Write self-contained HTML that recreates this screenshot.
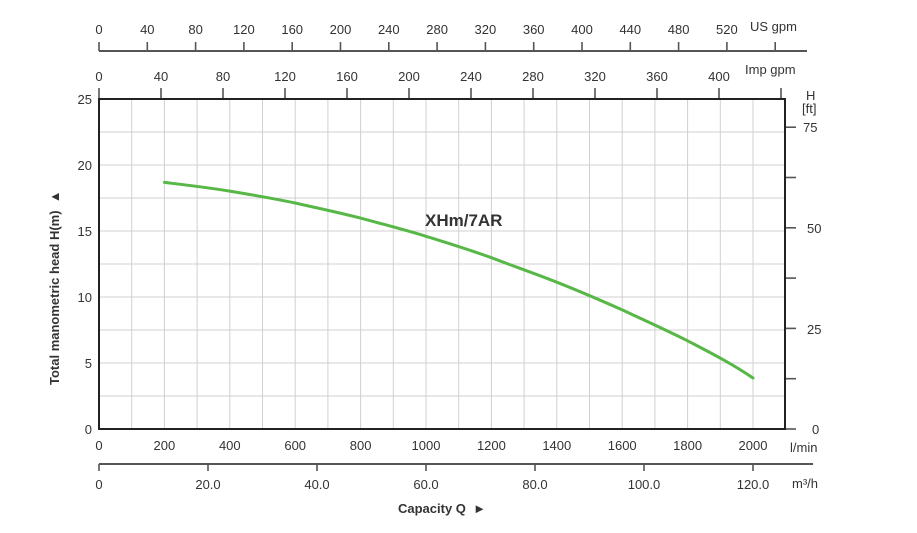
<!DOCTYPE html>
<html><head><meta charset="utf-8"><style>
body{margin:0;background:#fff}
svg text{font-family:"Liberation Sans",sans-serif;fill:#333;font-size:13px}
</style></head><body>
<svg width="917" height="528" viewBox="0 0 917 528" xmlns="http://www.w3.org/2000/svg">
<g stroke="#cfcfcf" stroke-width="1">
<script>/* none */</script>
</g>
<g id="grid" stroke="#d0d0d0" stroke-width="1"></g>
<g stroke="#555" stroke-width="2" fill="none">
<!-- US gpm axis -->
<path d="M99 51H807"/>
<!-- m3/h axis -->
<path d="M99 464H813"/>
</g>
<g id="ticks" stroke="#555" stroke-width="1.6"></g>
<rect x="99" y="99" width="686" height="330" fill="none" stroke="#222" stroke-width="2"/>
<path d="M164.4 182.4 C186 185,208 187.5,229.8 191.1 C252 194.8,274 198.5,295.2 203 C317 208,339 212.5,360.6 218.1 C382 224,404 229.5,426 236.3 C448 243,470 250,491.4 257.7 C513 266,535 273.5,556.8 282.2 C579 291,600 300,622.2 309.9 C644 320,666 330,687.6 340.8 C709 352,731 363,753 378" fill="none" stroke="#58b847" stroke-width="3" stroke-linecap="round"/>
<text x="425" y="226" style="font-size:17px;font-weight:bold;fill:#333">XHm/7AR</text>
<g id="labels"></g>
<text x="750" y="31">US gpm</text>
<text x="745" y="74">Imp gpm</text>
<text x="806" y="100">H</text>
<text x="802" y="113">[ft]</text>
<text x="803" y="132">75</text>
<text x="807" y="233">50</text>
<text x="807" y="334">25</text>
<text x="812" y="434">0</text>
<text x="790" y="452">l/min</text>
<text x="792" y="488">m³/h</text>
<text x="398" y="513" style="font-weight:bold">Capacity Q&#160;&#160;►</text>
<text transform="translate(59,385) rotate(-90)" style="font-weight:bold">Total manometric head H(m)&#160;&#160;▲</text>
<script>
var ns="http://www.w3.org/2000/svg";
function el(p,t,a,txt){var e=document.createElementNS(ns,t);for(var k in a)e.setAttribute(k,a[k]);if(txt!==undefined)e.textContent=txt;document.getElementById(p).appendChild(e);}
for(var i=1;i<21;i++){var x=99+i*32.7;el("grid","line",{x1:x,y1:99,x2:x,y2:429});}
for(var j=1;j<10;j++){var y=429-j*33;el("grid","line",{x1:99,y1:y,x2:785,y2:y});}
// US gpm
for(var i=0;i<=14;i++){var x=99+i*48.3;el("ticks","line",{x1:x,y1:42,x2:x,y2:51});if(i<=13)el("labels","text",{x:x,y:34,"text-anchor":"middle"},String(i*40));}
// Imp gpm
for(var i=0;i<=11;i++){var x=99+i*62;el("ticks","line",{x1:x,y1:88,x2:x,y2:99});if(i<=10)el("labels","text",{x:x,y:81,"text-anchor":"middle"},String(i*40));}
// ft ticks
for(var i=1;i<=6;i++){var y=429-i*50.3;el("ticks","line",{x1:785,y1:y,x2:796,y2:y});}
el("ticks","line",{x1:785,y1:429,x2:796,y2:429});
// H(m)
for(var i=0;i<=5;i++){el("labels","text",{x:92,y:434-i*66,"text-anchor":"end"},String(i*5));}
// l/min
for(var i=0;i<=10;i++){el("labels","text",{x:99+i*65.4,y:450,"text-anchor":"middle"},String(i*200));}
// m3/h
var ml=["0","20.0","40.0","60.0","80.0","100.0","120.0"];
for(var i=0;i<=6;i++){var x=99+i*109;el("ticks","line",{x1:x,y1:464,x2:x,y2:471});el("labels","text",{x:x,y:489,"text-anchor":"middle"},ml[i]);}
</script>
</svg>
</body></html>
